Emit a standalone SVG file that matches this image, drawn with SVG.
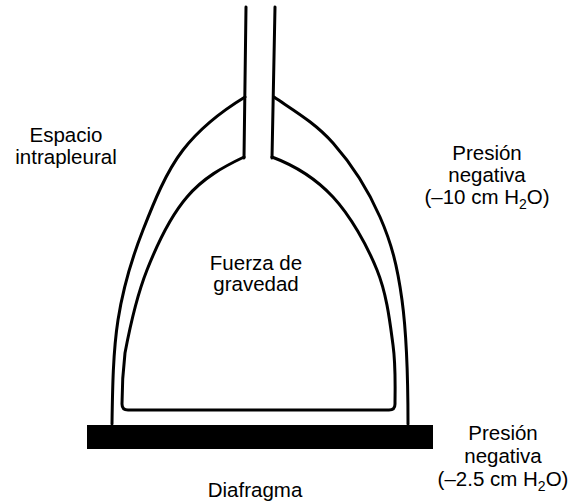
<svg xmlns="http://www.w3.org/2000/svg" width="568" height="502" viewBox="0 0 568 502">
  <style>
    .line { fill: none; stroke: #000; stroke-width: 3; stroke-linecap: round; stroke-linejoin: round; }
    .lbl { font-family: "Liberation Sans", Arial, Helvetica, sans-serif; font-size: 20.5px; fill: #000; text-anchor: middle; }
    .sub { font-size: 14px; }
  </style>
  <rect width="568" height="502" fill="#fff"/>

  <!-- Model: trachea tube, pleural sac (outer wall), lung (inner wall), diaphragm -->
  <g id="trachea">
    <path class="line" d="M246,7 L244,158"/>
    <path class="line" d="M275,7 L272,158"/>
  </g>

  <g id="pleura">
    <path class="line" d="M245,97 C222,111 200,128 183,150 C166,172 154,202 143,230 C132,258 123,288 118,320 C113,352 112.5,390 112,424"/>
    <path class="line" d="M274,97 C294.5,111 315.3,123 333,143 C350.7,163 368.5,190.8 380,217 C391.5,243.2 397.3,265.5 402,300 C406.7,334.5 408,390 408,424"/>
  </g>

  <g id="lung">
    <path class="line" d="M244,157 C223,167 203,178 187,197 C170.8,215.8 157.3,244 147,270 C136.7,296 129.2,330.7 125,353 C123,370 122,390 122,404 Q122,410 128,410 L389,410 Q395,410 395,404 C395,390 396,367 393,345 C390,322.7 387,294.7 377,270 C367,245.3 350.5,215.8 333,197 C315.5,178.2 296,166 272,157"/>
  </g>

  <g id="diafragma">
    <rect x="87" y="425" width="346" height="24" fill="#000"/>
  </g>

  <!-- Labels -->
  <g id="label-espacio">
    <text class="lbl" x="66" y="142">Espacio</text>
    <text class="lbl" x="66" y="164">intrapleural</text>
  </g>
  <g id="label-presion-sup">
    <text class="lbl" x="487" y="160">Presión</text>
    <text class="lbl" x="487" y="182">negativa</text>
    <text class="lbl" x="487" y="204">(–10 cm H<tspan class="sub" dy="5">2</tspan><tspan dy="-5">O)</tspan></text>
  </g>
  <g id="label-gravedad">
    <text class="lbl" x="256" y="270">Fuerza de</text>
    <text class="lbl" x="256" y="291">gravedad</text>
  </g>
  <g id="label-presion-inf">
    <text class="lbl" x="503" y="440">Presión</text>
    <text class="lbl" x="503" y="463">negativa</text>
    <text class="lbl" x="503" y="486">(–2.5 cm H<tspan class="sub" dy="5">2</tspan><tspan dy="-5">O)</tspan></text>
  </g>
  <g id="label-diafragma">
    <text class="lbl" x="255" y="497">Diafragma</text>
  </g>
</svg>
